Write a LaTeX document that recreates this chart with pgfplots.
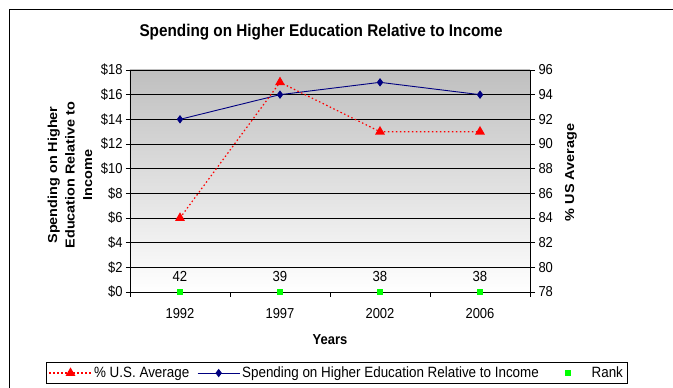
\documentclass[border=0pt]{standalone}
\usepackage{pgfplots}
\pgfplotsset{compat=1.18}
\usepackage{fontspec}
\setmainfont{Liberation Sans}[FakeStretch=0.9]
\newfontfamily\rotfont{Liberation Sans}[FakeStretch=1.11]
\definecolor{navyb}{RGB}{0,0,128}
\definecolor{rankg}{RGB}{0,255,0}
\begin{document}
\begin{tikzpicture}
\useasboundingbox (0,0) rectangle (673pt,388pt);
\draw[line width=1.2pt] (9.5pt,0pt) -- (9.5pt,378.5pt) -- (673pt,378.5pt);
\node[font=\fontsize{17}{20}\selectfont\bfseries] at (321pt,356pt) {Spending on Higher Education Relative to Income};
\begin{axis}[
  at={(130pt,96pt)}, anchor=south west,
  scale only axis, width=400pt, height=222pt,
  xmin=-0.5, xmax=3.5, ymin=0, ymax=18,
  clip=false,
  axis y line*=left, axis x line*=bottom,
  axis line style={black, line width=0.6pt},
  axis background/.style={shade, top color=black!25, bottom color=white},
  xtick={0,1,2,3}, xticklabels={1992,1997,2002,2006},
  minor xtick={-0.5,0.5,1.5,2.5,3.5},
  major x tick style={draw=none},
  minor x tick style={black, line width=0.6pt},
  minor tick length=5pt,
  ytick={0,2,...,18},
  yticklabels={\$0,\$2,\$4,\$6,\$8,\$10,\$12,\$14,\$16,\$18},
  major tick length=4pt,
  tick align=outside,
  ytick style={black, line width=0.6pt},
  ymajorgrids, grid style={black, line width=0.7pt},
  tick label style={font=\fontsize{14.4}{16}\selectfont},
  xticklabel style={yshift=-9pt},
  /pgf/number format/assume math mode=true,
  xlabel={Years},
  xlabel style={font=\fontsize{14.4}{16}\selectfont\bfseries, at={(axis description cs:0.5,-0.216)}, anchor=center},
  ylabel={Spending on Higher\\Education Relative to\\Income},
  every axis y label/.style={at={(axis description cs:-0.15,0.527)}, rotate=90, anchor=center, align=center, font=\rotfont\fontsize{13}{17.5}\selectfont\bfseries},
]
\addplot[navyb, line width=0.9pt, mark=diamond*, mark size=3.5pt, mark options={solid, fill=navyb, draw=navyb}] coordinates {(0,14) (1,16) (2,17) (3,16)};
\addplot[only marks, mark=square*, mark size=2.6pt, mark options={fill=rankg, draw=rankg},
  nodes near coords, point meta=explicit symbolic,
  every node near coord/.append style={anchor=center, yshift=16pt, font=\fontsize{14.6}{16}\selectfont, text=black}]
  coordinates {(0,0) [42] (1,0) [39] (2,0) [38] (3,0) [38]};
\end{axis}
\begin{axis}[
  at={(130pt,96pt)}, anchor=south west,
  scale only axis, width=400pt, height=222pt,
  xmin=-0.5, xmax=3.5, ymin=78, ymax=96,
  clip=false,
  axis y line*=right, axis x line=none,
  axis line style={black, line width=0.6pt},
  ytick={78,80,...,96},
  major tick length=5pt, tick align=outside,
  ytick style={black, line width=0.6pt},
  tick label style={font=\fontsize{14.4}{16}\selectfont},
  /pgf/number format/assume math mode=true,
  ylabel={\% US Average},
  every axis y label/.style={at={(axis description cs:1.1025,0.538)}, rotate=90, anchor=center, font=\rotfont\fontsize{13}{16}\selectfont\bfseries},
  legend columns=3,
  legend style={at={(axis description cs:-0.21,-0.3153)}, anchor=north west, draw=black, line width=0.8pt,
    font=\fontsize{14.9}{16}\selectfont, inner sep=2.5pt, row sep=0pt,
    /tikz/every even column/.append style={column sep=6pt}},
  legend cell align=left,
  legend image code/.code={\draw[mark repeat=2, mark phase=2, #1] plot coordinates {(0pt,0pt) (21pt,0pt) (42pt,0pt)};},
]
\addplot[red, line width=1.2pt, dash pattern=on 1.5pt off 2.5pt, mark=triangle*, mark size=4.5pt, mark options={solid, fill=red, draw=red}] coordinates {(0,84) (1,95) (2,91) (3,91)};
\addlegendentry{\% U.S. Average}
\addlegendimage{navyb, line width=0.9pt, mark=diamond*, mark size=3.5pt, mark options={solid, fill=navyb}}
\addlegendentry{Spending on Higher Education Relative to Income}
\addlegendimage{legend image code/.code={\fill[rankg] (18.4pt,-2.6pt) rectangle (23.6pt,2.6pt); \path (0pt,0pt) (42pt,0pt);}}
\addlegendentry{Rank}
\end{axis}
\end{tikzpicture}
\end{document}
